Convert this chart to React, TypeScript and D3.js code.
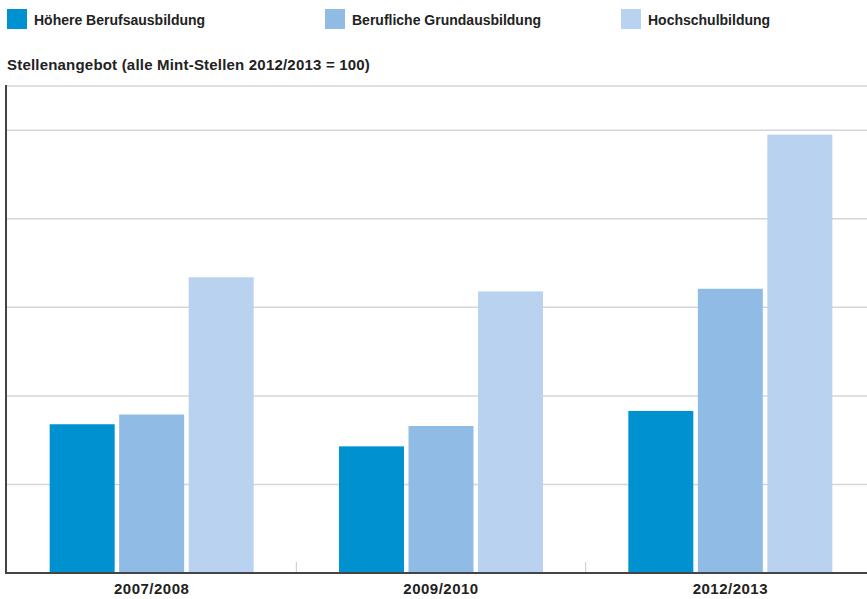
import React from 'react'
import * as d3 from 'd3'

const years = ['2007/2008', '2009/2010', '2012/2013']
const series = ['Höhere Berufsausbildung', 'Berufliche Grundausbildung', 'Hochschulbildung']
const hoehere = [16.8, 14.3, 18.3]
const grund = [17.9, 16.6, 32.1]
const hochschul = [33.4, 31.8, 49.5]
const gridTicks = [10, 20, 30, 40, 50, 55]

const colors = ['#0091d1', '#8fbbe5', '#b8d2ef']
const W = 867
const H = 599
const top = 86
const bottom = 573
const left = 7
const right = 875

export default function App() {
  const values = [hoehere, grund, hochschul]
  const y = d3.scaleLinear().domain([0, 55]).range([bottom, top])
  const x0 = d3.scaleBand().domain(years).range([left, right]).padding(0)
  const groupW = 204
  const x1 = d3.scaleBand().domain(series).range([0, groupW]).paddingInner(0.065)
  const font = '"Liberation Sans", Arial, sans-serif'
  const legendX = [7, 325, 621]

  return (
    <svg width={W} height={H} style={{ position: 'absolute', left: 0, top: 0 }} fontFamily={font}>
      {series.map((s, i) => (
        <g key={s} transform={`translate(${legendX[i]},9)`}>
          <rect width={20} height={20} fill={colors[i]} />
          <text x={27} y={16} fontSize={14} fontWeight="bold" fill="#222">{s}</text>
        </g>
      ))}
      <text x={7} y={70} fontSize={15} letterSpacing={0.2} fontWeight="bold" fill="#222">
        Stellenangebot (alle Mint-Stellen 2012/2013 = 100)
      </text>

      {gridTicks.map(t => (
        <line key={t} x1={left} x2={W} y1={y(t)} y2={y(t)} stroke="#d6d6d6" strokeWidth={1.5} />
      ))}

      {years.map((yr, gi) => {
        const gx = x0(yr)! + (x0.bandwidth() - groupW) / 2
        return (
          <g key={yr} transform={`translate(${gx},0)`}>
            {series.map((s, si) => (
              <rect key={s} x={x1(s)} width={x1.bandwidth()} y={y(values[si][gi])}
                height={y(0) - y(values[si][gi])} fill={colors[si]} />
            ))}
          </g>
        )
      })}

      {years.slice(1).map(yr => (
        <line key={yr} x1={x0(yr)} x2={x0(yr)} y1={bottom - 11} y2={bottom} stroke="#c8c8c8" strokeWidth={1} />
      ))}

      <line x1={left - 1} x2={W} y1={bottom} y2={bottom} stroke="#444" strokeWidth={2} />
      <line x1={left - 1} x2={left - 1} y1={top - 1} y2={bottom + 1} stroke="#444" strokeWidth={2} />

      {years.map(yr => (
        <text key={yr} x={x0(yr)! + x0.bandwidth() / 2} y={594} textAnchor="middle"
          fontSize={15} letterSpacing={0.5} fontWeight="bold" fill="#222">{yr}</text>
      ))}
    </svg>
  )
}
